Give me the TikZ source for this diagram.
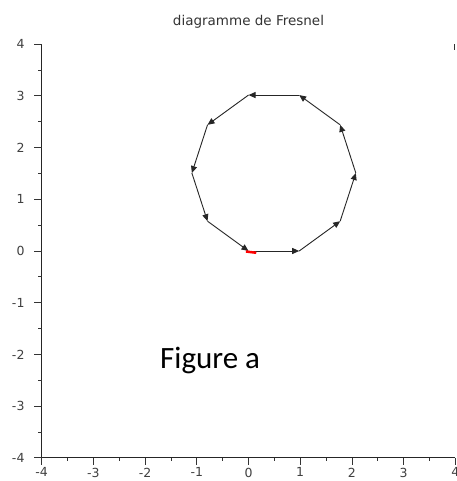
\documentclass[tikz,border=0pt]{standalone}
\usepackage{fontspec}
\setmainfont{DejaVu Sans}
\newfontfamily\figfont{Carlito}
\usetikzlibrary{arrows.meta}
\begin{document}
\begin{tikzpicture}[x=51.7pt,y=51.7pt,
  axisline/.style={line width=0.9pt, draw=black!85},
  tickmark/.style={line width=0.8pt, draw=black!80},
  phasor/.style={line width=0.9pt, draw=black!85, -{Triangle[length=7pt,width=6pt]}},
  ticklab/.style={font=\fontsize{12.5}{13}\selectfont, text=black!75, inner sep=0pt},
  titlelab/.style={font=\fontsize{13.5}{14}\selectfont, text=black!80, inner sep=0pt},
  figlab/.style={font=\figfont\fontsize{31}{34}\selectfont, text=black, inner sep=0pt}]
\useasboundingbox (-4.807,-4.449) rectangle (4.014,4.855);
\fill[white] (-4.807,-4.449) rectangle (4.014,4.855);
% axes
\coordinate (o) at (-4,-4);
\coordinate (ytop) at (-4,4);
\coordinate (xend) at (4,-4);
\draw[axisline] (ytop) -- (o) -- (xend);
\coordinate (rt1) at (3.98,4);
\coordinate (rt2) at (3.98,3.88);
\draw[line width=1pt, draw=black!80] (rt1) -- (rt2);
% ticks
\foreach \k in {-4,...,4}{
  \draw[tickmark] (-4,\k) -- ++(-8pt,0);
  \draw[tickmark] (\k,-4) -- ++(0,-7pt);
  \node[ticklab, anchor=east] (yl\k) at (-4.33,\k) {\k};
  \node[ticklab, anchor=north] (xl\k) at (\k,-4.19) {\k};
}
\foreach \k in {-3.5,-2.5,...,3.5}{
  \draw[tickmark] (-4,\k) -- ++(-3.5pt,0);
  \draw[tickmark] (\k,-4) -- ++(0,-3.5pt);
}
% title
\node[titlelab] (title) at (0,4.43) {diagramme de Fresnel};
% phasors
\coordinate (v0) at (0,0);
\coordinate (v1) at (0.98,0);
\coordinate (v2) at (1.7728,0.5762);
\coordinate (v3) at (2.0756,1.5082);
\coordinate (v4) at (1.7728,2.4402);
\coordinate (v5) at (0.98,3.0164);
\coordinate (v6) at (0,3.0164);
\coordinate (v7) at (-0.7928,2.4402);
\coordinate (v8) at (-1.0956,1.5082);
\coordinate (v9) at (-0.7928,0.5762);
\draw[phasor] (v0) -- (v1);
\draw[phasor] (v1) -- (v2);
\draw[phasor] (v2) -- (v3);
\draw[phasor] (v3) -- (v4);
\draw[phasor] (v4) -- (v5);
\draw[phasor] (v5) -- (v6);
\draw[phasor] (v6) -- (v7);
\draw[phasor] (v7) -- (v8);
\draw[phasor] (v8) -- (v9);
\draw[phasor] (v9) -- (v0);
% resultant (red)
\coordinate (r0) at (-0.05,-0.01);
\coordinate (r1) at (0.15,-0.035);
\draw[red, line width=2.5pt] (r0) -- (r1);
% label
\node[figlab, anchor=base west] (fig) at (-1.712,-2.282) {Figure a};
\end{tikzpicture}
\end{document}
